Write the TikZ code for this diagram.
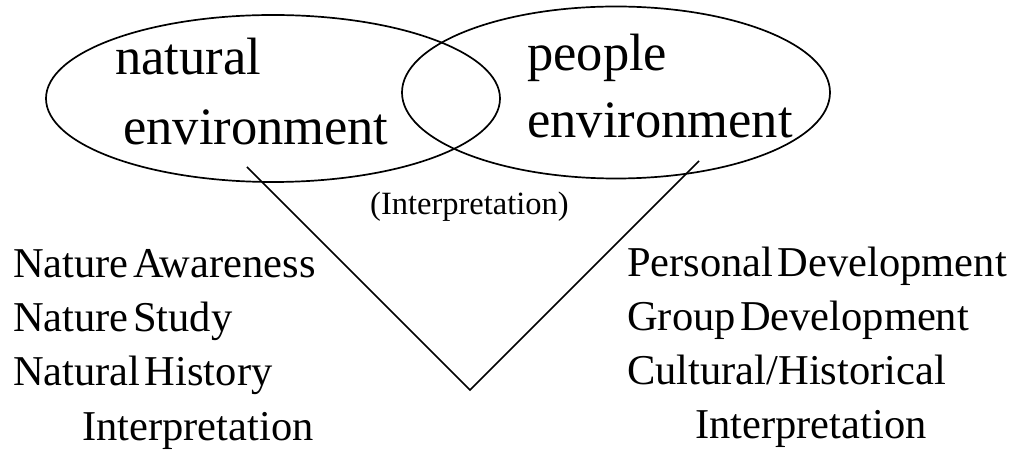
\documentclass[tikz,border=0pt]{standalone}
\usepackage{fontspec}
\setmainfont{Liberation Serif}
\usetikzlibrary{shapes.geometric}
\newcommand\wsp{\hspace{0.1em}}
\begin{document}
\begin{tikzpicture}[x=1bp,y=-1bp,
  stroke/.style={line width=1.7bp,black},
  envbox/.style={stroke,draw,ellipse,inner sep=0pt},
  bigtext/.style={inner sep=0pt,anchor=base west,font=\fontsize{52.5bp}{60bp}\selectfont},
  listtext/.style={inner sep=0pt,anchor=base west,font=\fontsize{42.5bp}{50bp}\selectfont},
  midtext/.style={inner sep=0pt,anchor=base west,font=\fontsize{32.5bp}{36bp}\selectfont}]
\useasboundingbox (0,0) rectangle (1017,453);

% the two overlapping environments
\node[envbox,minimum width=454bp,minimum height=167bp] (nat) at (273,98.5) {};
\node[envbox,minimum width=428bp,minimum height=172bp] (ppl) at (616,92.5) {};

\node[bigtext] (natA) at (115,75) {natural};
\node[bigtext] (natB) at (123,145) {environment};
\node[bigtext] (pplA) at (527,71) {people};
\node[bigtext] (pplB) at (527,138) {environment};

\node[midtext] (interp) at (370,215) {(Interpretation)};

% the V joining both environments
\coordinate (vL) at (247,167);
\coordinate (vR) at (699,161);
\coordinate (tip) at (470,390);
\draw[stroke,line join=miter] (vL) -- (tip) -- (vR);

% nature side
\node[listtext] (l1) at (13,278) {Nature\wsp Awareness};
\node[listtext] (l2) at (13,332) {Nature\wsp Study};
\node[listtext] (l3) at (13,386) {Natural\wsp History};
\node[listtext] (l4) at (82,440) {Interpretation};

% people side
\node[listtext] (r1) at (627,277) {Personal\wsp Development};
\node[listtext] (r2) at (627,331) {Group\wsp Development};
\node[listtext] (r3) at (627,385) {Cultural/Historical};
\node[listtext] (r4) at (695,438) {Interpretation};
\end{tikzpicture}
\end{document}
